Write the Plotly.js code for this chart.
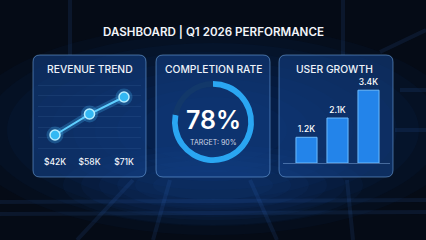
<!DOCTYPE html>
<html>
<head>
<meta charset="utf-8">
<script src="https://cdn.plot.ly/plotly-3.0.1.min.js"></script>
<style>html,body{margin:0;padding:0;background:#050b16;}#chart{width:426px;height:240px;}</style>
</head>
<body>
<div id="chart"></div>
<script>
// ---- data ----
const revenueLabels = ['$42K', '$58K', '$71K'];
const revenueValues = [42, 58, 71];
const completionRate = 78;
const completionTarget = 90;
const userLabels = ['1.2K', '2.1K', '3.4K'];
const userValues = [1.2, 2.1, 3.4];
const dashboardTitle = 'DASHBOARD | Q1 2026 PERFORMANCE';
const panelTitles = ['REVENUE TREND', 'COMPLETION RATE', 'USER GROWTH'];

const W = 426, H = 240;
const X = v => v / W, Y = v => 1 - v / H;
function rr(x0, y0, x1, y1, r) {
  const a = v => X(v).toFixed(5), b = v => Y(v).toFixed(5);
  return `M${a(x0+r)},${b(y0)} L${a(x1-r)},${b(y0)} Q${a(x1)},${b(y0)} ${a(x1)},${b(y0+r)} ` +
         `L${a(x1)},${b(y1-r)} Q${a(x1)},${b(y1)} ${a(x1-r)},${b(y1)} L${a(x0+r)},${b(y1)} ` +
         `Q${a(x0)},${b(y1)} ${a(x0)},${b(y1-r)} L${a(x0)},${b(y0+r)} Q${a(x0)},${b(y0)} ${a(x0+r)},${b(y0)} Z`;
}

const idx = [0, 1, 2];
const FONT = 'Inter, Roboto, "Noto Sans", sans-serif';

const traces = [
  // line glow
  {type: 'scatter', mode: 'lines', x: idx, y: revenueValues, xaxis: 'x', yaxis: 'y',
   line: {color: 'rgba(70,190,255,0.25)', width: 7}, hoverinfo: 'skip', showlegend: false},
  {type: 'scatter', mode: 'markers', x: idx, y: revenueValues, xaxis: 'x', yaxis: 'y',
   marker: {size: 17, color: 'rgba(70,190,255,0.25)'}, hoverinfo: 'skip', showlegend: false},
  {type: 'scatter', mode: 'lines+markers', x: idx, y: revenueValues, xaxis: 'x', yaxis: 'y',
   line: {color: '#5fcfff', width: 2},
   marker: {size: 10, color: '#33b8f3', line: {color: '#b5ecff', width: 1.5}},
   cliponaxis: false, showlegend: false},
  // completion ring
  {type: 'pie', values: [completionRate, 100 - completionRate], sort: false,
   direction: 'counterclockwise', rotation: 0, hole: 0.86,
   marker: {colors: ['#2aa6f2', '#12386a'], line: {width: 0}},
   textinfo: 'none', hoverinfo: 'skip', showlegend: false,
   domain: {x: [X(172), X(254)], y: [Y(163), Y(81)]}},
  // bars
  {type: 'bar', x: idx, y: userValues, xaxis: 'x2', yaxis: 'y2', width: 0.68,
   marker: {color: '#2384ea', line: {color: '#6cbcff', width: 1}},
   text: userLabels, textposition: 'outside', cliponaxis: false,
   textfont: {color: '#ffffff', size: 8.5, family: FONT, weight: 500},
   showlegend: false}
];

const shapes = [];
// background glows (stacked soft ellipses)
for (let i = 0; i < 9; i++) {
  const rx = 250 - i * 22, ry = 105 - i * 9;
  shapes.push({type: 'circle', xref: 'paper', yref: 'paper', x0: X(213 - rx), x1: X(213 + rx),
    y0: Y(130 + ry), y1: Y(130 - ry), fillcolor: 'rgba(25,85,175,0.05)', line: {width: 0}, layer: 'below'});
}
for (let i = 0; i < 6; i++) {
  const rx = 150 - i * 18, ry = 40 - i * 5;
  shapes.push({type: 'circle', xref: 'paper', yref: 'paper', x0: X(213 - rx), x1: X(213 + rx),
    y0: Y(185 + ry), y1: Y(185 - ry), fillcolor: 'rgba(30,100,200,0.05)', line: {width: 0}, layer: 'below'});
}
// streak lines
[[133,180,77,240],[170,180,153,240],[250,180,277,240],[347,180,353,240],[0,202,426,200],[0,214,426,212],[70,0,70,55],[343,0,343,55],[426,30,380,52],[400,90,426,90],[395,130,426,130]].forEach(l => {
  shapes.push({type: 'line', xref: 'paper', yref: 'paper', x0: X(l[0]), y0: Y(l[1]), x1: X(l[2]), y1: Y(l[3]),
    line: {color: 'rgba(60,130,230,0.11)', width: 4}, layer: 'below'});
});
// panels
[[33,55,146,177],[156,55,270,177],[279,55,393,177]].forEach(p => {
  shapes.push({type: 'path', xref: 'paper', yref: 'paper', path: rr(p[0],p[1],p[2],p[3],7),
    fillcolor: 'rgba(20,68,140,0.55)', line: {color: 'rgba(120,175,235,0.55)', width: 1}, layer: 'below'});
});
// bar baseline
shapes.push({type: 'line', xref: 'paper', yref: 'paper', x0: X(283), x1: X(390), y0: Y(163.5), y1: Y(163.5),
  line: {color: 'rgba(140,180,230,0.45)', width: 1}, layer: 'below'});

function ann(text, x, y, size, color, weight, xanchor) {
  return {text: text, x: X(x), y: Y(y), xref: 'paper', yref: 'paper', showarrow: false,
    xanchor: xanchor || 'center', yanchor: 'middle',
    font: {family: FONT, size: size, color: color, weight: weight || 400}};
}
const annotations = [
  ann(dashboardTitle, 213, 32, 11.6, '#f2f5fa', 600),
  ann(panelTitles[0], 90, 69, 10.3, '#eef3fa', 500),
  ann(panelTitles[1], 213, 69, 10.3, '#eef3fa', 500),
  ann(panelTitles[2], 294, 69, 10.3, '#eef3fa', 500, 'left'),
  ann(completionRate + '%', 213, 120, 25, '#ffffff', 600),
  ann('TARGET: ' + completionTarget + '%', 213, 142, 7, '#cdd8e8', 400)
];

const layout = {
  width: W, height: H,
  margin: {l: 0, r: 0, t: 0, b: 0},
  paper_bgcolor: '#050b16', plot_bgcolor: 'rgba(0,0,0,0)',
  font: {family: FONT, color: '#ffffff'},
  xaxis: {domain: [X(37.75), X(141.25)], range: [-0.5, 2.5], tickvals: idx, ticktext: revenueLabels,
    showgrid: false, zeroline: false, showline: false, ticks: '', anchor: 'y',
    tickfont: {size: 8.5, color: '#f2f5fa', family: FONT, weight: 500}},
  yaxis: {domain: [Y(155), Y(80)], range: [26.74, 83.97], showticklabels: false, zeroline: false,
    showgrid: true, gridcolor: 'rgba(120,170,230,0.10)', dtick: 8, anchor: 'x'},
  xaxis2: {domain: [X(291), X(384)], range: [-0.5, 2.5], showticklabels: false, showgrid: false,
    zeroline: false, showline: false, anchor: 'y2'},
  yaxis2: {domain: [Y(163), Y(60)], range: [0, 4.81], showticklabels: false, showgrid: false,
    zeroline: false, anchor: 'x2'},
  shapes: shapes,
  annotations: annotations,
  showlegend: false
};

Plotly.newPlot('chart', traces, layout, {staticPlot: true, displayModeBar: false});
</script>
</body>
</html>
